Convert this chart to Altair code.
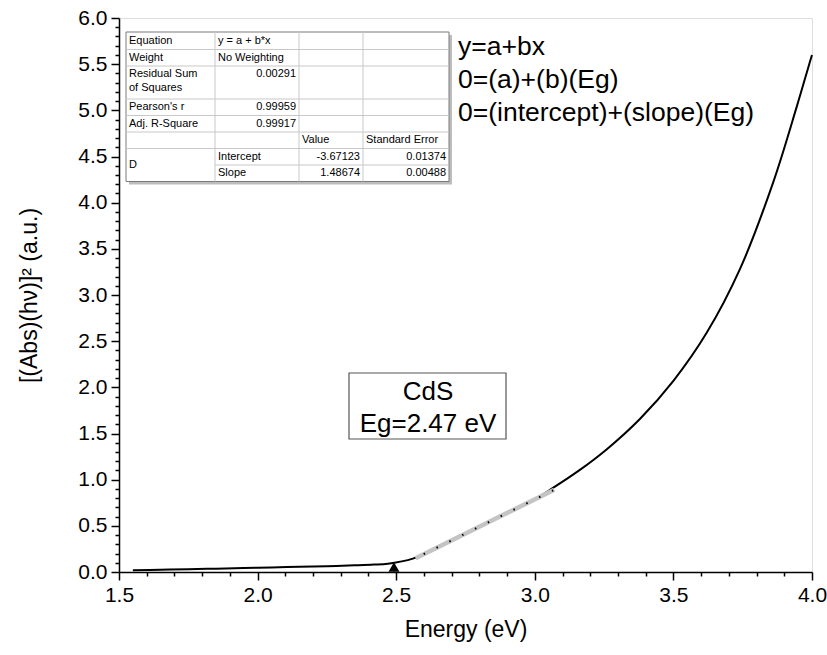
import altair as alt
import pandas as pd

# ---------------- data ----------------
energy = [1.55, 1.65, 1.75, 1.85, 1.95, 2.05, 2.15, 2.25, 2.35, 2.42, 2.47, 2.52,
          2.56, 2.60, 2.70, 2.80, 2.90, 3.00, 3.06, 3.16, 3.26, 3.38, 3.50, 3.62,
          3.74, 3.86, 3.945, 3.99, 4.00]
signal = [0.020, 0.025, 0.030, 0.036, 0.042, 0.050, 0.056, 0.063, 0.072, 0.080, 0.090, 0.115,
          0.145, 0.190, 0.340, 0.490, 0.640, 0.790, 0.900, 1.100, 1.330, 1.660, 2.070, 2.590,
          3.280, 4.220, 5.040, 5.500, 5.600]

fit_energy = [2.57, 3.07]
fit_signal = [0.15, 0.89]

arrow_energy = [2.492]
arrow_signal = [0.055]

x_ticks = [round(1.5 + 0.1 * i, 1) for i in range(26)]
y_ticks = [round(0.1 * i, 1) for i in range(61)]

table_rows = ["Equation", "Weight", "Residual Sum\nof Squares", "Pearson's r", "Adj. R-Square"]
table_vals = ["y = a + b*x", "No Weighting", "0.00291", "0.99959", "0.99917"]
param_header = ["Value", "Standard Error"]
param_names = ["Intercept", "Slope"]
param_values = ["-3.67123", "1.48674"]
param_errors = ["0.01374", "0.00488"]
param_group = "D"

eq_lines = ["y=a+bx", "0=(a)+(b)(Eg)", "0=(intercept)+(slope)(Eg)"]
box_lines = ["CdS", "Eg=2.47 eV"]

# ---------------- layout helpers (pixel -> data units) ----------------
W, H = 693, 554
X0, X1, Y0, Y1 = 1.5, 4.0, 0.0, 6.0
def ex(px):  # px from plot-left
    return X0 + px / W * (X1 - X0)
def vy(py):  # px from plot-top
    return Y1 - py / H * (Y1 - Y0)

FONT = "Liberation Sans"
xs = alt.Scale(domain=[X0, X1], nice=False, zero=False)
ys = alt.Scale(domain=[Y0, Y1], nice=False, zero=False)
major = "abs(datum.value*2 - round(datum.value*2)) < 0.000001"

common = dict(labelExpr=f"({major}) ? format(datum.value, '.1f') : ''",
              tickSize={"condition": {"test": major, "value": 8}, "value": 4},
              tickCount=200, labelOverlap=False, labelFlush=False, grid=False,
              titleFontWeight="normal", labelFontSize=21, titleFontSize=23,
              domainColor="black", domainWidth=1.5, tickColor="black", tickWidth=1.5,
              labelColor="black", titleColor="black", labelFont=FONT, titleFont=FONT)
xaxis = alt.Axis(values=x_ticks, title="Energy (eV)", titlePadding=13, labelPadding=4, **common)
yaxis = alt.Axis(values=y_ticks, title="[(Abs)(hν)]² (a.u.)", titlePadding=36, labelPadding=4, **common)

curve_df = pd.DataFrame({"E": energy, "S": signal})
curve = alt.Chart(curve_df).mark_line(color="black", strokeWidth=2, interpolate="catmull-rom").encode(
    x=alt.X("E:Q", scale=xs, axis=xaxis),
    y=alt.Y("S:Q", scale=ys, axis=yaxis),
)

fit_df = pd.DataFrame({"E": fit_energy, "S": fit_signal})
fit = alt.Chart(fit_df).mark_line(color="#c4c4c4", strokeWidth=4.5).encode(
    x=alt.X("E:Q", scale=xs), y=alt.Y("S:Q", scale=ys))
fit_dots = alt.Chart(fit_df).mark_line(color="black", strokeWidth=2, strokeDash=[1.5, 12.8],
                                       strokeDashOffset=-9).encode(
    x=alt.X("E:Q", scale=xs), y=alt.Y("S:Q", scale=ys))

arrow_df = pd.DataFrame({"E": arrow_energy, "S": arrow_signal})
arrow = alt.Chart(arrow_df).mark_point(shape="triangle-up", filled=True, color="black",
                                       size=120, opacity=1).encode(
    x=alt.X("E:Q", scale=xs), y=alt.Y("S:Q", scale=ys))

# ---------------- fit table ----------------
col_px = [7, 96, 180, 244, 330]
row_px = [14, 31.5, 48, 81, 97.5, 114, 130.5, 147, 163.5]
cE = [ex(p) for p in col_px]
rV = [vy(p) for p in row_px]

table_bg = alt.Chart(pd.DataFrame({"x": [cE[0]], "x2": [cE[-1]], "y": [rV[0]], "y2": [rV[-1]]})).mark_rect(
    fill="white", stroke="#7a7a7a", strokeWidth=1).encode(
    x=alt.X("x:Q", scale=xs), x2="x2:Q", y=alt.Y("y:Q", scale=ys), y2="y2:Q")
shadow = alt.Chart(pd.DataFrame({"x": [ex(col_px[0] + 3)], "x2": [ex(col_px[-1] + 3)],
                                 "y": [vy(row_px[0] + 3)], "y2": [vy(row_px[-1] + 3)]})).mark_rect(
    fill="#bdbdbd").encode(
    x=alt.X("x:Q", scale=xs), x2="x2:Q", y=alt.Y("y:Q", scale=ys), y2="y2:Q")

h_lines = []
for i in range(1, len(rV) - 1):
    start = cE[1] if i == 7 else cE[0]
    h_lines.append({"x": start, "x2": cE[-1], "y": rV[i], "y2": rV[i]})
for j in range(1, len(cE) - 1):
    h_lines.append({"x": cE[j], "x2": cE[j], "y": rV[0], "y2": rV[-1]})
grid = alt.Chart(pd.DataFrame(h_lines)).mark_rule(color="#c8c8c8", strokeWidth=1).encode(
    x=alt.X("x:Q", scale=xs), x2="x2:Q", y=alt.Y("y:Q", scale=ys), y2="y2:Q")

cells = []
pad = 3
for i, (lab, val) in enumerate(zip(table_rows, table_vals)):
    top, bot = row_px[i], row_px[i + 1]
    if "\n" in lab:
        cells.append({"t": lab, "x": ex(col_px[0] + pad), "y": vy(top + 2), "a": "left", "b": "top"})
        cells.append({"t": val, "x": ex(col_px[2] - pad), "y": vy(top + 2), "a": "right", "b": "top"})
    else:
        mid = (top + bot) / 2
        cells.append({"t": lab, "x": ex(col_px[0] + pad), "y": vy(mid), "a": "left", "b": "middle"})
        if i < 2:
            cells.append({"t": val, "x": ex(col_px[1] + pad), "y": vy(mid), "a": "left", "b": "middle"})
        else:
            cells.append({"t": val, "x": ex(col_px[2] - pad), "y": vy(mid), "a": "right", "b": "middle"})
hmid = (row_px[5] + row_px[6]) / 2
cells.append({"t": param_header[0], "x": ex(col_px[2] + pad), "y": vy(hmid), "a": "left", "b": "middle"})
cells.append({"t": param_header[1], "x": ex(col_px[3] + pad), "y": vy(hmid), "a": "left", "b": "middle"})
for k in range(2):
    mid = (row_px[6 + k] + row_px[7 + k]) / 2
    cells.append({"t": param_names[k], "x": ex(col_px[1] + pad), "y": vy(mid), "a": "left", "b": "middle"})
    cells.append({"t": param_values[k], "x": ex(col_px[3] - pad), "y": vy(mid), "a": "right", "b": "middle"})
    cells.append({"t": param_errors[k], "x": ex(col_px[4] - pad), "y": vy(mid), "a": "right", "b": "middle"})
cells.append({"t": param_group, "x": ex(col_px[0] + pad), "y": vy(row_px[7]), "a": "left", "b": "middle"})
cells_df = pd.DataFrame(cells)

text_layers = []
for (a, b), sub in cells_df.groupby(["a", "b"]):
    text_layers.append(alt.Chart(sub).mark_text(align=a, baseline=b, font=FONT, fontSize=11,
                                                color="black", lineBreak="\n", lineHeight=14).encode(
        x=alt.X("x:Q", scale=xs), y=alt.Y("y:Q", scale=ys), text="t:N"))

# ---------------- equation annotation ----------------
eq_df = pd.DataFrame({"t": eq_lines, "x": [ex(339)] * 3, "y": [vy(p) for p in (29, 62, 95)]})
eq_text = alt.Chart(eq_df).mark_text(align="left", baseline="middle", font=FONT, fontSize=26.5,
                                     color="black").encode(
    x=alt.X("x:Q", scale=xs), y=alt.Y("y:Q", scale=ys), text="t:N")

# ---------------- CdS box ----------------
box_df = pd.DataFrame({"x": [ex(230)], "x2": [ex(387)], "y": [vy(355)], "y2": [vy(421)]})
box = alt.Chart(box_df).mark_rect(fill="white", stroke="#555555", strokeWidth=1.2).encode(
    x=alt.X("x:Q", scale=xs), x2="x2:Q", y=alt.Y("y:Q", scale=ys), y2="y2:Q")
box_txt_df = pd.DataFrame({"t": box_lines, "x": [ex(309)] * 2, "y": [vy(374), vy(406)]})
box_text = alt.Chart(box_txt_df).mark_text(align="center", baseline="middle", font=FONT, fontSize=26,
                                           color="black").encode(
    x=alt.X("x:Q", scale=xs), y=alt.Y("y:Q", scale=ys), text="t:N")

chart = alt.layer(curve, shadow, table_bg, grid, *text_layers, eq_text, box, box_text,
                  fit, fit_dots, arrow).properties(
    width=W, height=H, autosize="none",
    padding={"left": 119, "top": 18, "right": 15, "bottom": 83},
).configure_view(stroke="black", strokeWidth=2).configure(background="white")

chart.save("out.html", embed_options={"renderer": "svg", "actions": False})
